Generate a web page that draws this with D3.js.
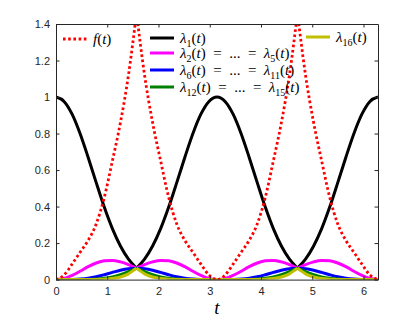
<!DOCTYPE html>
<html>
<head>
  <meta charset="UTF-8">
  <title>Eigenvalues</title>
  <script src="https://cdnjs.cloudflare.com/ajax/libs/d3/7.8.5/d3.min.js"></script>
  <style>
    body { margin: 0; background: #ffffff; }
    .tick text { fill: #262626; font-family: "Liberation Sans", Arial, sans-serif; font-size: 11px; }
    .tick line, .domain { stroke: #262626; }
  </style>
</head>
<body>
<svg id="svg" width="415" height="325"></svg>

<script type="text/javascript">

// sample points, t in [0, 2pi], step pi/20
var tVals = [0, 0.157, 0.314, 0.471, 0.628, 0.785, 0.942, 1.100, 1.257, 1.414, 1.571,
	1.728, 1.885, 2.042, 2.199, 2.356, 2.513, 2.670, 2.827, 2.985, 3.142,
	3.299, 3.456, 3.613, 3.770, 3.927, 4.084, 4.241, 4.398, 4.555, 4.712,
	4.869, 5.027, 5.184, 5.341, 5.498, 5.655, 5.812, 5.969, 6.126, 6.283];

var fVals = [0, 0.025, 0.085, 0.15, 0.215, 0.305, 0.45, 0.65, 0.86, 1.12, 1.46,
	1.12, 0.86, 0.65, 0.45, 0.305, 0.215, 0.15, 0.085, 0.025, 0,
	0.025, 0.085, 0.15, 0.215, 0.305, 0.45, 0.65, 0.86, 1.12, 1.46,
	1.12, 0.86, 0.65, 0.45, 0.305, 0.215, 0.15, 0.085, 0.025, 0];

var lam1 = [1, 0.976, 0.906, 0.799, 0.669, 0.531, 0.397, 0.279, 0.184, 0.112, 0.0625,
	0.112, 0.184, 0.279, 0.397, 0.531, 0.669, 0.799, 0.906, 0.976, 1,
	0.976, 0.906, 0.799, 0.669, 0.531, 0.397, 0.279, 0.184, 0.112, 0.0625,
	0.112, 0.184, 0.279, 0.397, 0.531, 0.669, 0.799, 0.906, 0.976, 1];

var lam2 = [0, 0.006, 0.023, 0.046, 0.071, 0.091, 0.103, 0.105, 0.097, 0.082, 0.0625,
	0.082, 0.097, 0.105, 0.103, 0.091, 0.071, 0.046, 0.023, 0.006, 0,
	0.006, 0.023, 0.046, 0.071, 0.091, 0.103, 0.105, 0.097, 0.082, 0.0625,
	0.082, 0.097, 0.105, 0.103, 0.091, 0.071, 0.046, 0.023, 0.006, 0];

var lam6 = [0, 0, 0.0006, 0.0027, 0.0075, 0.0156, 0.0268, 0.0394, 0.0511, 0.0595, 0.0625,
	0.0595, 0.0511, 0.0394, 0.0268, 0.0156, 0.0075, 0.0027, 0.0006, 0, 0,
	0, 0.0006, 0.0027, 0.0075, 0.0156, 0.0268, 0.0394, 0.0511, 0.0595, 0.0625,
	0.0595, 0.0511, 0.0394, 0.0268, 0.0156, 0.0075, 0.0027, 0.0006, 0, 0];

var lam12 = [0, 0, 0, 0.0002, 0.0008, 0.0027, 0.007, 0.0148, 0.027, 0.0434, 0.0625,
	0.0434, 0.027, 0.0148, 0.007, 0.0027, 0.0008, 0.0002, 0, 0, 0,
	0, 0, 0.0002, 0.0008, 0.0027, 0.007, 0.0148, 0.027, 0.0434, 0.0625,
	0.0434, 0.027, 0.0148, 0.007, 0.0027, 0.0008, 0.0002, 0, 0, 0];

var lam16 = [0, 0, 0, 0, 0.0001, 0.0005, 0.0018, 0.0056, 0.0143, 0.0317, 0.0625,
	0.0317, 0.0143, 0.0056, 0.0018, 0.0005, 0.0001, 0, 0, 0, 0,
	0, 0, 0, 0.0001, 0.0005, 0.0018, 0.0056, 0.0143, 0.0317, 0.0625,
	0.0317, 0.0143, 0.0056, 0.0018, 0.0005, 0.0001, 0, 0, 0, 0];

var xTicks = [0, 1, 2, 3, 4, 5, 6];
var yTicks = [0, 0.2, 0.4, 0.6, 0.8, 1, 1.2, 1.4];

var svg = d3.select('#svg');

var x = d3.scaleLinear().domain([0, 6.2832]).range([56, 378]);
var y = d3.scaleLinear().domain([0, 1.4]).range([279.6, 24]);

svg.append('defs').append('clipPath').attr('id', 'clip')
	.append('rect')
	.attr('x', 56).attr('y', 24)
	.attr('width', 322).attr('height', 255.6);

// split at the cusps (pi/2 and 3pi/2) so the corners stay sharp
var pieces = [[0, 10], [10, 30], [30, 40]];

function drawSeries(vals, color, width, dash) {
	var g = svg.append('g').attr('clip-path', 'url(#clip)');
	pieces.forEach(function(p) {
		var pts = [];
		for (var i = p[0]; i <= p[1]; i++) pts.push([tVals[i], vals[i]]);
		var line = d3.line()
			.x(function(d) { return x(d[0]); })
			.y(function(d) { return y(d[1]); })
			.curve(d3.curveMonotoneX);
		g.append('path')
			.attr('d', line(pts))
			.attr('fill', 'none')
			.attr('stroke', color)
			.attr('stroke-width', width)
			.attr('stroke-dasharray', dash)
			.attr('stroke-linejoin', 'round');
	});
}

drawSeries(lam1, '#000000', 3, null);
drawSeries(lam2, '#ff00ff', 3, null);
drawSeries(lam6, '#0000ff', 3, null);
drawSeries(lam12, '#008000', 3, null);
drawSeries(lam16, '#c0c000', 3, null);
drawSeries(fVals, '#ff0000', 2.8, '2.6,2.6');

// axes: ticks inside, full box
svg.append('g')
	.attr('transform', 'translate(0,279.6)')
	.call(d3.axisBottom(x).tickValues(xTicks).tickFormat(d3.format('~g')).tickSizeInner(-3.5).tickSizeOuter(0).tickPadding(8));
svg.append('g')
	.attr('transform', 'translate(56,0)')
	.call(d3.axisLeft(y).tickValues(yTicks).tickFormat(d3.format('~g')).tickSizeInner(-3.5).tickSizeOuter(0).tickPadding(6));
svg.append('g')
	.attr('transform', 'translate(0,24)')
	.call(d3.axisTop(x).tickValues(xTicks).tickFormat('').tickSizeInner(-3.5).tickSizeOuter(0));
svg.append('g')
	.attr('transform', 'translate(378,0)')
	.call(d3.axisRight(y).tickValues(yTicks).tickFormat('').tickSizeInner(-3.5).tickSizeOuter(0));

svg.append('text')
	.attr('x', 217)
	.attr('y', 314)
	.attr('text-anchor', 'middle')
	.style('font-family', '"Liberation Serif", serif')
	.style('font-style', 'italic')
	.style('font-size', '19px')
	.style('fill', '#000')
	.text('t');

// legend, latex-like labels built from tspans
function label(px, py, parts) {
	var txt = svg.append('text')
		.attr('x', px)
		.attr('y', py + 5)
		.style('font-family', '"Liberation Serif", serif')
		.style('font-size', '15px')
		.style('fill', '#000');
	var shifted = false;
	parts.forEach(function(p) {
		var ts = txt.append('tspan').text(p[0]);
		if (p[1] == 's') {
			ts.style('font-size', '10px').attr('dy', 3.5);
			shifted = true;
		} else {
			if (shifted) { ts.attr('dy', -3.5); shifted = false; }
			if (p[1] == 'i') ts.style('font-style', 'italic');
		}
	});
}

function lam(n) { return [['\u03bb', 'i'], [n, 's'], ['(', 'r'], ['t', 'i'], [')', 'r']]; }
var eqs = [['\u2002=\u2002...\u2002=\u2002', 'r']];

var legend = [
	{x: 63, y: 39, color: '#ff0000', dash: '2.6,2.6', parts: [['f', 'i'], ['(', 'r'], ['t', 'i'], [')', 'r']]},
	{x: 150, y: 38, color: '#000000', dash: null, parts: lam('1')},
	{x: 150, y: 53, color: '#ff00ff', dash: null, parts: lam('2').concat(eqs, lam('5'))},
	{x: 150, y: 70, color: '#0000ff', dash: null, parts: lam('6').concat(eqs, lam('11'))},
	{x: 150, y: 87, color: '#008000', dash: null, parts: lam('12').concat(eqs, lam('15'))},
	{x: 306, y: 37, color: '#c0c000', dash: null, parts: lam('16')}
];

legend.forEach(function(d) {
	svg.append('line')
		.attr('x1', d.x).attr('x2', d.x + 24)
		.attr('y1', d.y).attr('y2', d.y)
		.attr('stroke', d.color)
		.attr('stroke-width', d.dash ? 2.8 : 3)
		.attr('stroke-dasharray', d.dash);
	label(d.x + 30, d.y, d.parts);
});

</script>
</body>
</html>
